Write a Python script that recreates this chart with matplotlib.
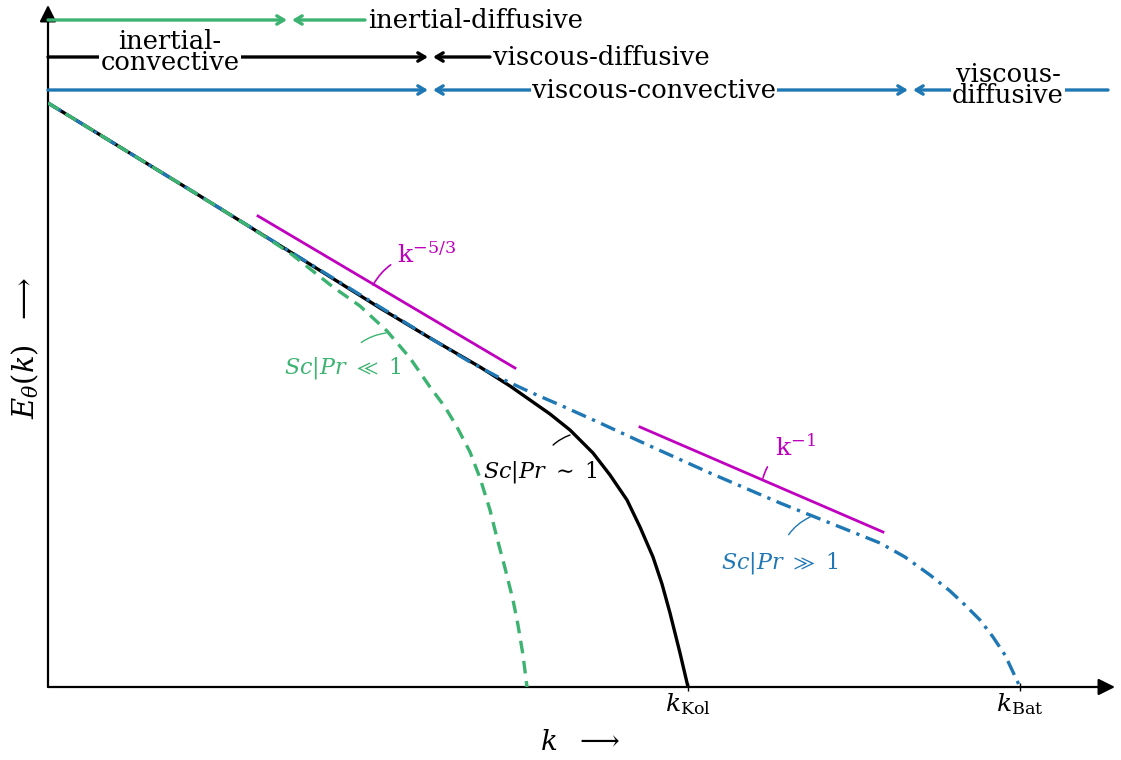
import numpy as np
import matplotlib
matplotlib.use("Agg")
import matplotlib.pyplot as plt

plt.rcParams['font.family'] = ['DejaVu Serif']
plt.rcParams['mathtext.fontset'] = 'dejavuserif'

# schematic spectrum, x ~ log k, y ~ log E (arbitrary units)
green_x = [0.0, 1.52, 2.02, 2.42, 2.85, 3.12, 3.39, 3.62, 3.82, 3.97, 4.09, 4.22,
           4.32, 4.42, 4.49, 4.57, 4.65, 4.70, 4.75, 4.79]
green_y = [5.84, 4.91, 4.60, 4.34, 4.00, 3.81, 3.56, 3.29, 3.00, 2.80, 2.60, 2.35,
           2.09, 1.77, 1.49, 1.19, 0.87, 0.62, 0.32, 0.0]

black_x = [0.0, 1.52, 2.52, 3.32, 3.82, 4.32, 4.62, 4.82, 5.02, 5.22, 5.45, 5.62,
           5.79, 5.92, 6.05, 6.14, 6.22, 6.32, 6.40]
black_y = [5.84, 4.91, 4.29, 3.79, 3.49, 3.20, 3.01, 2.87, 2.73, 2.57, 2.34, 2.12,
           1.87, 1.60, 1.30, 1.03, 0.74, 0.34, 0.0]

blue_x = [0.0, 1.52, 3.32, 3.92, 4.22, 4.52, 4.82, 5.12, 5.52, 6.02, 6.62, 7.32,
          7.82, 8.32, 8.57, 8.82, 9.02, 9.17, 9.32, 9.45, 9.57, 9.65, 9.72]
blue_y = [5.84, 4.91, 3.80, 3.43, 3.25, 3.09, 2.95, 2.82, 2.64, 2.41, 2.14, 1.84,
          1.64, 1.44, 1.30, 1.12, 0.96, 0.82, 0.67, 0.50, 0.32, 0.15, 0.0]

slope53_x = [2.10, 4.67]
slope53_y = [4.71, 3.19]
slope1_x = [5.92, 8.35]
slope1_y = [2.60, 1.55]

k_ticks = [6.40, 9.72]
k_labels = [r'$k_{\mathrm{Kol}}$', r'$k_{\mathrm{Bat}}$']

GREEN = '#3cb371'
BLUE = '#1f77b4'
MAG = '#bf00bf'

fig = plt.figure(figsize=(11.21, 7.6), dpi=100)
W, H = 1121, 760
ax = fig.add_axes([48 / W, (H - 687) / H, (1115 - 48) / W, (687 - 5) / H])
ax.set_xlim(0, 10.67)
ax.set_ylim(0, 6.82)
for s in ax.spines.values():
    s.set_visible(False)
ax.set_yticks([])
ax.set_xticks(k_ticks)
ax.set_xticklabels(k_labels, fontsize=18)
ax.tick_params(axis='x', direction='inout', length=6, width=1, pad=0)

# axes with arrow heads
ax.annotate('', xy=(10.67, 0), xytext=(0, 0), annotation_clip=False,
            arrowprops=dict(arrowstyle='-|>', lw=1.6, color='k', mutation_scale=25, shrinkA=0, shrinkB=0))
ax.annotate('', xy=(0, 6.82), xytext=(0, 0), annotation_clip=False,
            arrowprops=dict(arrowstyle='-|>', lw=1.6, color='k', mutation_scale=25, shrinkA=0, shrinkB=0))

# spectra
ax.plot(blue_x, blue_y, color=BLUE, lw=2.4, dashes=(4.6, 2.0, 1.0, 2.0), zorder=3,
        dash_joinstyle='round')
ax.plot(black_x, black_y, color='k', lw=2.4, zorder=2, solid_joinstyle='round')
ax.plot(green_x, green_y, color=GREEN, lw=2.4, dashes=(3.8, 2.3), zorder=4,
        dash_joinstyle='round')

ax.plot(slope53_x, slope53_y, color=MAG, lw=2.0)
ax.plot(slope1_x, slope1_y, color=MAG, lw=2.0)

ax.annotate(r'$\mathrm{k}^{-5/3}$', xy=(3.25, 4.02), xytext=(3.49, 4.32), color=MAG, fontsize=18,
            ha='left', va='center',
            arrowprops=dict(arrowstyle='-', color=MAG, lw=1.2, shrinkA=3, shrinkB=0,
                            connectionstyle='arc3,rad=0.3'))
ax.annotate(r'$\mathrm{k}^{-1}$', xy=(7.15, 2.09), xytext=(7.27, 2.40), color=MAG, fontsize=18,
            ha='left', va='center',
            arrowprops=dict(arrowstyle='-', color=MAG, lw=1.2, shrinkA=6, shrinkB=0,
                            connectionstyle='arc3,rad=0.3'))
ax.annotate(r'$Sc|Pr\ \ll\ 1$', xy=(3.38, 3.54), xytext=(2.95, 3.19), color=GREEN, fontsize=16,
            ha='center', va='center',
            arrowprops=dict(arrowstyle='-', color=GREEN, lw=1.0, shrinkA=10, shrinkB=0,
                            connectionstyle='arc3,rad=-0.3'))
ax.annotate(r'$Sc|Pr\ \sim\ 1$', xy=(5.22, 2.52), xytext=(4.92, 2.15), color='k', fontsize=16,
            ha='center', va='center',
            arrowprops=dict(arrowstyle='-', color='k', lw=1.0, shrinkA=10, shrinkB=0,
                            connectionstyle='arc3,rad=-0.3'))
ax.annotate(r'$Sc|Pr\ \gg\ 1$', xy=(7.62, 1.70), xytext=(7.32, 1.24), color=BLUE, fontsize=16,
            ha='center', va='center',
            arrowprops=dict(arrowstyle='-', color=BLUE, lw=1.0, shrinkA=10, shrinkB=0,
                            connectionstyle='arc3,rad=-0.3'))

# regime arrows along the top
def arrow(x0, x1, y, color):
    ax.annotate('', xy=(x1, y), xytext=(x0, y), annotation_clip=False,
                arrowprops=dict(arrowstyle='->,head_length=0.5,head_width=0.3', lw=2.4,
                                color=color, shrinkA=0, shrinkB=0))

box = dict(facecolor='white', edgecolor='none', pad=1)
ytop_g, ytop_k, ytop_b = 6.67, 6.30, 5.97
fs = 18.5

arrow(0, 2.39, ytop_g, GREEN)
arrow(3.17, 2.44, ytop_g, GREEN)
ax.text(3.20, ytop_g, 'inertial-diffusive', fontsize=fs, ha='left', va='center')

arrow(0, 3.80, ytop_k, 'k')
ax.text(1.22, ytop_k + 0.05, 'inertial-\nconvective', fontsize=fs, ha='center', va='center',
        linespacing=0.8, bbox=box)
arrow(4.42, 3.85, ytop_k, 'k')
ax.text(4.45, ytop_k, 'viscous-diffusive', fontsize=fs, ha='left', va='center')

arrow(0, 3.80, ytop_b, BLUE)
arrow(6.0, 3.85, ytop_b, BLUE)
arrow(6.0, 8.60, ytop_b, BLUE)
ax.text(6.06, ytop_b, 'viscous-convective', fontsize=fs, ha='center', va='center', bbox=box)
arrow(10.60, 8.65, ytop_b, BLUE)
ax.text(9.60, ytop_b + 0.05, 'viscous-\ndiffusive', fontsize=fs, ha='center', va='center',
        linespacing=0.8, bbox=box)

fig.text(25 / W, 1 - 348 / H, r'$E_\theta(k)\ \ \longrightarrow$', rotation=90, fontsize=21,
         ha='center', va='center')
fig.text(580 / W, 1 - 742 / H, r'$k\ \ \longrightarrow$', fontsize=20, ha='center', va='center')

fig.savefig('out.png', dpi=100)
